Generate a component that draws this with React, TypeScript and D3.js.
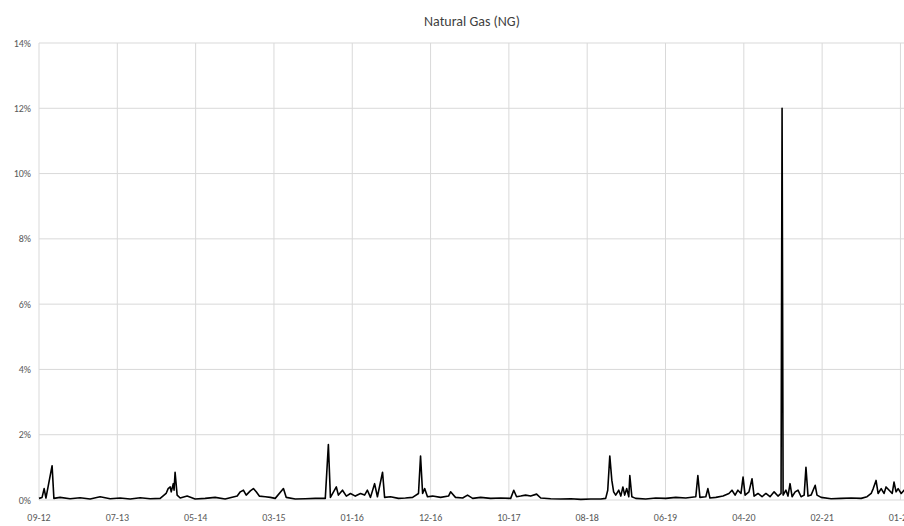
import React from 'react';
import * as d3 from 'd3';

const days = [0,12,20,27,51,58,82,121,160,199,238,277,316,355,394,433,472,495,503,511,515,523,526,530,538,550,577,608,647,686,725,772,784,796,807,823,835,846,858,881,901,920,952,963,998,1037,1076,1115,1127,1135,1158,1166,1182,1197,1213,1232,1252,1268,1279,1291,1307,1318,1338,1346,1369,1400,1427,1455,1478,1486,1494,1502,1513,1533,1564,1595,1603,1622,1650,1669,1689,1720,1759,1798,1837,1849,1860,1876,1895,1915,1938,1954,1993,2032,2071,2110,2149,2188,2207,2215,2223,2231,2238,2246,2258,2266,2274,2281,2289,2297,2301,2309,2324,2363,2402,2441,2480,2519,2558,2566,2574,2597,2605,2613,2636,2664,2687,2699,2711,2722,2734,2742,2750,2765,2777,2785,2800,2816,2831,2847,2863,2878,2890,2894,2898,2909,2917,2925,2933,2945,2956,2968,2980,2987,2995,3007,3023,3030,3046,3085,3124,3163,3202,3225,3241,3249,3260,3268,3280,3291,3299,3311,3323,3330,3338,3346,3358,3369,3381];
const values = [0.05,0.08,0.35,0.06,1.05,0.05,0.08,0.04,0.07,0.03,0.1,0.04,0.06,0.03,0.07,0.04,0.05,0.2,0.35,0.4,0.25,0.5,0.3,0.85,0.15,0.06,0.12,0.03,0.05,0.08,0.03,0.12,0.25,0.3,0.15,0.28,0.35,0.25,0.12,0.1,0.08,0.05,0.35,0.08,0.03,0.04,0.05,0.05,1.7,0.08,0.4,0.15,0.3,0.12,0.2,0.12,0.2,0.15,0.3,0.08,0.5,0.1,0.85,0.08,0.1,0.05,0.06,0.08,0.2,1.35,0.2,0.35,0.1,0.12,0.08,0.12,0.25,0.08,0.06,0.15,0.05,0.08,0.05,0.06,0.05,0.3,0.1,0.12,0.15,0.12,0.18,0.06,0.04,0.03,0.04,0.02,0.03,0.03,0.05,0.3,1.35,0.6,0.25,0.15,0.3,0.12,0.4,0.15,0.35,0.1,0.75,0.1,0.05,0.03,0.06,0.05,0.08,0.06,0.1,0.75,0.08,0.1,0.35,0.06,0.08,0.12,0.2,0.3,0.15,0.3,0.2,0.7,0.15,0.25,0.65,0.12,0.2,0.1,0.2,0.1,0.25,0.12,0.2,12.0,0.15,0.3,0.12,0.5,0.1,0.25,0.3,0.1,0.15,1.0,0.12,0.15,0.45,0.15,0.08,0.04,0.05,0.06,0.05,0.1,0.2,0.35,0.6,0.2,0.35,0.2,0.4,0.3,0.2,0.55,0.25,0.35,0.2,0.3,0.2];

const tickDays = [0,305,610,915,1220,1525,1830,2135,2440,2745,3050,3355];
const tickLabels = ['09-12','07-13','05-14','03-15','01-16','12-16','10-17','08-18','06-19','04-20','02-21','01-22'];
const yTicks = [0,2,4,6,8,10,12,14];

const W = 904, H = 526;
const FONT = 'Calibri, Carlito, "Liberation Sans", Arial, sans-serif';

export default function App() {
  const x = d3.scaleLinear().domain([0, 3400]).range([39, 912]);
  const y = d3.scaleLinear().domain([0, 14]).range([500, 43]);
  const pts = days.map((d, i) => [d, values[i]] as [number, number]);
  const line = d3.line<[number, number]>().x(d => x(d[0])).y(d => y(d[1]));

  return (
    <svg width={W} height={H} style={{ position: 'absolute', left: 0, top: 0, background: '#fff' }}>
      <text x={W / 2 + 20} y={26} textAnchor="middle" fontFamily={FONT} fontSize={14} fill="#404040">Natural Gas (NG)</text>
      {yTicks.map(t => (
        <g key={t}>
          <line x1={39} x2={W} y1={y(t)} y2={y(t)} stroke="#d9d9d9" strokeWidth={1} />
          <text x={31} y={y(t) + 3.5} textAnchor="end" fontFamily={FONT} fontSize={10} fill="#595959">{t}%</text>
        </g>
      ))}
      {tickDays.map((t, i) => (
        <g key={t}>
          <line x1={x(t)} x2={x(t)} y1={y(14)} y2={y(0)} stroke="#d9d9d9" strokeWidth={1} />
          <text x={x(t)} y={521} textAnchor="middle" fontFamily={FONT} fontSize={10} fill="#595959">{tickLabels[i]}</text>
        </g>
      ))}
      <path d={line(pts) || ''} fill="none" stroke="#000" strokeWidth={1.6} strokeLinejoin="round" />
    </svg>
  );
}
